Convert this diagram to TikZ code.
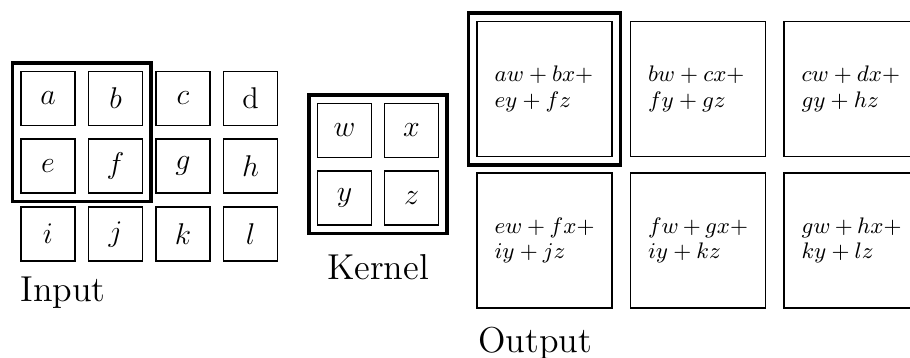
\documentclass[tikz,border=0pt]{standalone}
\usetikzlibrary{fit}

\tikzset{
  cell/.style={draw,line width=0.7pt,minimum size=21.6pt,inner sep=0pt,font=\large},
  outcell/.style={draw,line width=0.7pt,minimum size=54pt,inner sep=0pt,text width=40pt,align=left,font=\fontsize{9}{10.3}\selectfont},
  window/.style={draw,line width=1.4pt,inner sep=3pt},
  caption/.style={font=\Large,inner sep=0pt}
}

\begin{document}
\begin{tikzpicture}[x=0.4pt,y=-0.4pt]
\useasboundingbox (0,0) rectangle (910,358);
% input
\foreach \n/\t [count=\i from 0] in {a/$a$,b/$b$,c/$c$,d/d,e/$e$,f/$f$,g/$g$,h/$h$,i/$i$,j/$j$,k/$k$,l/$l$} {
  \pgfmathtruncatemacro\col{mod(\i,4)}
  \pgfmathtruncatemacro\row{\i/4}
  \node[cell] (in-\n) at (48+67.5*\col,98.5+67.8*\row) {\t};
}
\node[window,fit=(in-a)(in-f)] (in-win) {};
\node[caption,anchor=base west] (in-label) at (20,302) {Input};
% kernel
\foreach \n [count=\i from 0] in {w,x,y,z} {
  \pgfmathtruncatemacro\col{mod(\i,2)}
  \pgfmathtruncatemacro\row{\i/2}
  \node[cell] (k-\n) at (344.5+67*\col,130.5+67.5*\row) {$\n$};
}
\node[window,fit=(k-w)(k-z)] (k-win) {};
\node[caption,anchor=base] (k-label) at (378,279) {Kernel};
% output
\foreach \t [count=\i from 0] in {{$aw+bx+$\\$ey+fz$},{$bw+cx+$\\$fy+gz$},{$cw+dx+$\\$gy+hz$},
    {$ew+fx+$\\$iy+jz$},{$fw+gx+$\\$iy+kz$},{$gw+hx+$\\$ky+lz$}} {
  \pgfmathtruncatemacro\col{mod(\i,3)}
  \pgfmathtruncatemacro\row{\i/3}
  \node[outcell] (out-\i) at (544.5+153.5*\col,89+151.5*\row) {\t};
}
\node[window,fit=(out-0)] (out-win) {};
\node[caption,anchor=base west] (out-label) at (478,352) {Output};
\end{tikzpicture}
\end{document}
